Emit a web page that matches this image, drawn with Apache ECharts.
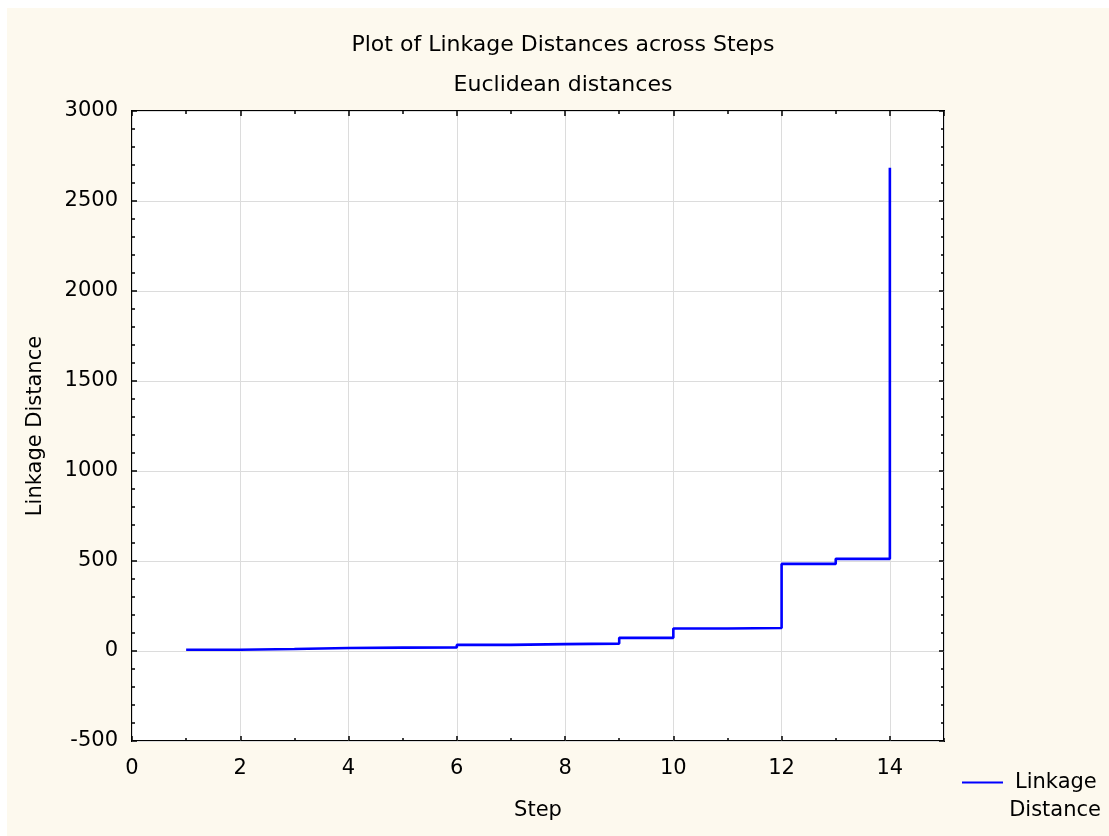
<!DOCTYPE html>
<html>

<head>
    <meta charset="utf-8">
    <title>Plot of Linkage Distances across Steps</title>
    <script src="https://cdn.jsdelivr.net/npm/echarts@6/dist/echarts.min.js"></script>
    <style>
        html, body {
            margin: 0;
            padding: 0;
            background: #fff;
        }
    </style>
</head>

<body>
    <div id="main" style="width: 1109px;height:836px;"></div>
    <script>
        // data
        var steps = [1, 2, 3, 4, 5, 6, 7, 8, 9, 10, 11, 12, 13, 14];
        var linkageDist = [7, 11, 17, 19, 20, 34, 38, 41, 73, 125, 128, 484, 512, 2685];
        var xTicks = [0, 2, 4, 6, 8, 10, 12, 14];
        var yTicks = [-500, 0, 500, 1000, 1500, 2000, 2500, 3000];

        var font = 'DejaVu Sans';
        var fs = 21;   // axis text
        var tfs = 22;  // titles

        var myChart = echarts.init(document.getElementById('main'));

        var points = steps.map(function (s, i) { return [s, linkageDist[i]]; });

        // plain tick-only axes for the minor / top ticks
        function tickAxis(pos, interval, len) {
            return {
                type: 'value', position: pos, min: 0, max: 15, interval: interval,
                axisLine: { show: false, onZero: false },
                axisLabel: { show: false },
                splitLine: { show: false },
                axisTick: { show: true, inside: true, length: len, lineStyle: { color: '#000', width: 1.5 } }
            };
        }

        var option = {
            backgroundColor: '#fff',
            animation: false,
            textStyle: { fontFamily: font },
            graphic: [
                { type: 'rect', z: -10, shape: { x: 7, y: 8, width: 1102, height: 828 }, style: { fill: '#fdf9ee' } },
                {
                    type: 'text', x: 1101, y: 811, style: {
                        text: 'Distance', font: fs + 'px ' + font, fill: '#000',
                        align: 'right', verticalAlign: 'middle'
                    }
                }
            ],
            title: [
                {
                    text: 'Plot of Linkage Distances across Steps', left: 563, top: 34, textAlign: 'center', padding: 0,
                    textStyle: { fontFamily: font, fontSize: tfs, fontWeight: 'normal', color: '#000' }
                },
                {
                    text: 'Euclidean distances', left: 563, top: 74, textAlign: 'center', padding: 0,
                    textStyle: { fontFamily: font, fontSize: tfs, fontWeight: 'normal', color: '#000' }
                }
            ],
            legend: {
                left: 957, top: 767,
                itemWidth: 41, itemHeight: 2,
                data: [{ name: 'Linkage Distance', icon: 'rect' }],
                formatter: function () { return 'Linkage'; },
                textStyle: { fontFamily: font, fontSize: fs, color: '#000', padding: [0, 0, 0, 7] }
            },
            grid: {
                left: 132, right: 165, top: 111, bottom: 95,
                show: true, backgroundColor: '#fff', borderColor: '#000', borderWidth: 2
            },
            xAxis: [
                {
                    type: 'value', position: 'bottom', min: 0, max: 15, interval: 2,
                    name: 'Step', nameLocation: 'middle', nameGap: 59,
                    nameTextStyle: { fontFamily: font, fontSize: fs, color: '#000' },
                    axisLine: { show: false, onZero: false },
                    axisTick: { inside: true, length: 5, lineStyle: { color: '#000', width: 1.5 } },
                    axisLabel: {
                        margin: 17, fontFamily: font, fontSize: fs, color: '#000', showMaxLabel: false,
                        formatter: function (v) { return xTicks.indexOf(v) >= 0 ? String(v) : ''; }
                    },
                    splitLine: { show: true, lineStyle: { color: '#dcdcdc', width: 1 } }
                },
                tickAxis('bottom', 1, 3),
                tickAxis('top', 2, 5),
                tickAxis('top', 1, 3)
            ],
            yAxis: [
                {
                    type: 'value', position: 'left', min: -500, max: 3000, interval: 500,
                    name: 'Linkage Distance', nameLocation: 'middle', nameGap: 86,
                    nameTextStyle: { fontFamily: font, fontSize: fs, color: '#000' },
                    axisLine: { show: false, onZero: false },
                    axisTick: { inside: true, length: 5, lineStyle: { color: '#000', width: 1.5 } },
                    minorTick: { show: true, splitNumber: 5, length: 3, lineStyle: { color: '#000', width: 1.5 } },
                    axisLabel: {
                        margin: 14, fontFamily: font, fontSize: fs, color: '#000',
                        formatter: function (v) { return yTicks.indexOf(v) >= 0 ? String(v) : ''; }
                    },
                    splitLine: { show: true, lineStyle: { color: '#dcdcdc', width: 1 } }
                },
                {
                    type: 'value', position: 'right', min: -500, max: 3000, interval: 500,
                    axisLine: { show: false, onZero: false },
                    axisLabel: { show: false },
                    splitLine: { show: false },
                    axisTick: { inside: true, length: 5, lineStyle: { color: '#000', width: 1.5 } },
                    minorTick: { show: true, splitNumber: 5, length: 3, lineStyle: { color: '#000', width: 1.5 } }
                }
            ],
            series: [{
                name: 'Linkage Distance',
                type: 'line',
                step: 'end',
                data: points,
                symbol: 'none',
                color: '#0000ff',
                lineStyle: { color: '#0000ff', width: 2.6 }
            }]
        };
        myChart.setOption(option);
    </script>

</body>

</html>
